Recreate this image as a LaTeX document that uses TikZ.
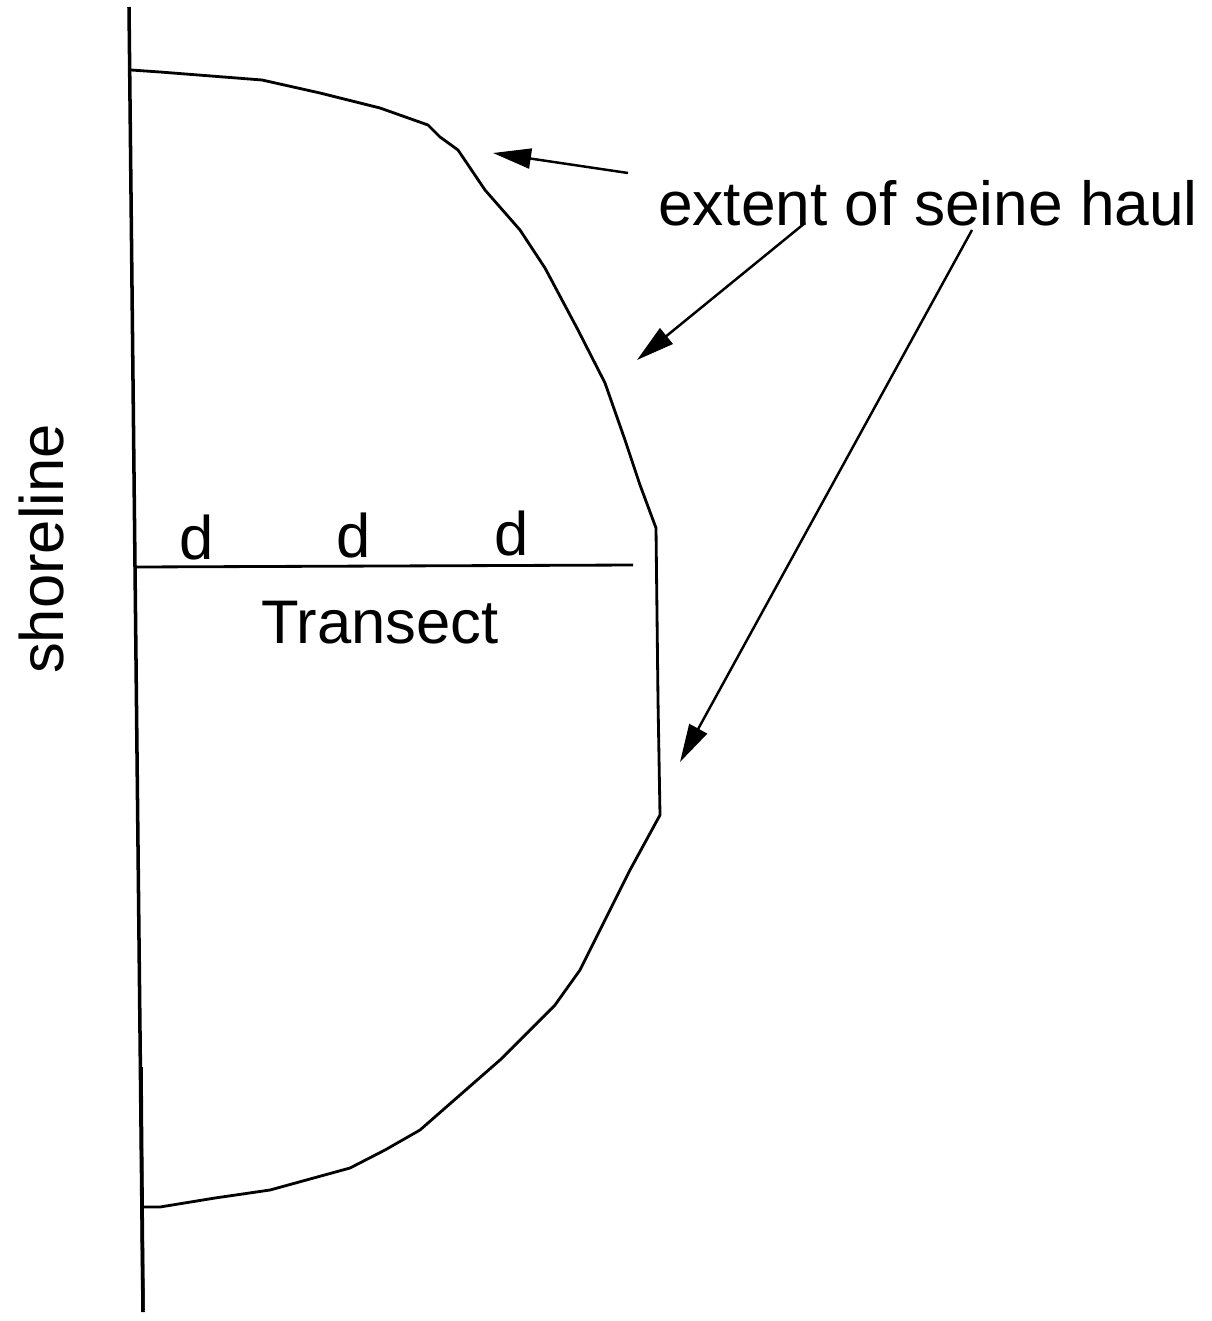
\documentclass[tikz,border=0pt]{standalone}
\usepackage{fontspec}
\setmainfont{Liberation Sans}
\usetikzlibrary{arrows.meta, positioning}

\begin{document}
\begin{tikzpicture}[
      x=0.01cm, y=-0.01cm,
      shore/.style={line width=1pt},
      haul/.style={line width=0.8pt, line join=round},
      arr/.style={-{Triangle[length=0.38cm, width=0.2cm]}, line width=0.7pt},
      lbl/.style={font=\fontsize{17.5pt}{19pt}\selectfont, inner sep=0pt}
    ]
    \useasboundingbox (0,0) rectangle (1211,1321);

    % shoreline
    \draw[shore] (129,7) -- (143,1312);
    \draw[shore] (141,1067) -- (143,1310);

    % extent of seine haul
    \draw[haul] (131,70) -- (160,72) -- (262,80) -- (320,93) -- (380,108)
      -- (428,125) -- (440,137) -- (458,150) -- (485,190) -- (520,230)
      -- (545,268) -- (578,330) -- (605,383) -- (625,440) -- (640,485)
      -- (656,528) -- (658,700) -- (660,815) -- (630,870) -- (600,930)
      -- (580,970) -- (555,1005) -- (500,1060) -- (460,1095) -- (420,1130)
      -- (385,1150) -- (350,1168) -- (270,1190) -- (215,1198) -- (160,1207)
      -- (143,1207);

    % transect
    \draw[haul] (137,567) -- (633,565);
    \node[lbl] (d1) at (197,537) {d};
    \node[lbl] (d2) at (354,535) {d};
    \node[lbl] (d3) at (512,533) {d};
    \node[lbl] (transect) at (380,623) {Transect};
    \node[lbl, rotate=90] (shoreline) at (42,549) {shoreline};

    % labels and arrows
    \node[lbl, font=\fontsize{17.7pt}{19pt}\selectfont] (extent) at (928,203) {extent of seine haul};
    \coordinate (s1) at (628,173);
    \coordinate (s2) at (805,223);
    \coordinate (s3) at (972,230);
    \coordinate (t1) at (493,153);
    \coordinate (t2) at (637,360);
    \coordinate (t3) at (680,762);
    \draw[arr] (s1) -- (t1);
    \draw[arr] (s2) -- (t2);
    \draw[arr] (s3) -- (t3);
\end{tikzpicture}
\end{document}
